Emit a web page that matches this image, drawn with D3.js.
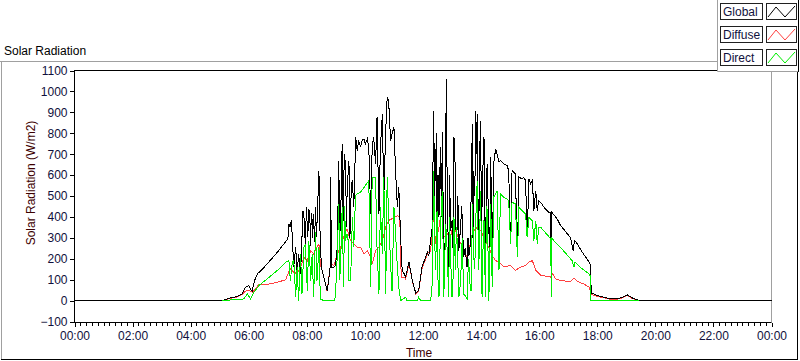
<!DOCTYPE html>
<html><head><meta charset="utf-8">
<script src="https://cdn.jsdelivr.net/npm/d3@7"></script>
<style>
body{margin:0;background:#fff}
svg{display:block}
text{font-family:"Liberation Sans",Arial,sans-serif;font-size:12px}
</style>
</head><body>
<svg width="800" height="361"></svg>
<script>
// ---- data (time in minutes since midnight, values in W/m2) ----
const seriesNames = ["Global", "Diffuse", "Direct"];
const seriesColors = ["#000000", "#ff4040", "#00ee00"];

const globalTime = [0,305,322,336,346,353,360,364,367,372,379,384,398,419,439,441,443,445,448,450,453,457,460,463,467,470,472,475,477,479,482,484,486,488,489,491,492,494,496,498,500,505,507,510,515,522,525,528,529,531,536,539,543,546,548,550,553,555,556,558,560,562,563,565,567,569,570,572,574,577,581,584,587,591,594,598,601,605,608,612,615,618,622,625,629,632,636,639,643,646,649,653,656,660,663,667,670,672,675,677,681,684,691,698,705,711,718,729,732,739,742,744,746,748,749,751,753,756,758,760,763,766,768,770,773,775,777,780,782,784,786,787,789,791,792,794,796,798,800,804,807,811,813,815,818,820,822,823,825,827,829,830,832,834,835,837,839,841,842,844,846,848,849,851,853,855,856,858,860,863,866,870,873,877,880,887,894,897,901,904,911,915,918,925,928,932,935,939,942,946,949,953,956,959,963,970,980,984,985,986,997,1004,1011,1025,1030,1033,1039,1049,1059,1065,1068,1073,1080,1094,1107,1121,1132,1142,1152,1166,1440];
const globalValue = [0,0,13,19,32,64,72,51,45,96,131,140,175,231,290,300,367,351,383,303,160,255,128,223,128,303,430,383,250,446,303,440,414,260,420,383,300,414,280,446,303,618,351,160,112,48,96,160,590,160,160,167,255,669,300,414,749,380,574,700,637,350,494,600,669,300,383,550,574,446,781,717,765,733,765,773,749,773,733,414,733,781,653,876,414,733,892,494,813,972,956,765,797,829,637,446,542,414,239,144,128,112,184,96,35,48,160,231,215,351,908,500,669,800,335,600,398,733,400,805,160,300,1060,542,160,600,335,383,250,781,700,430,280,367,500,239,300,367,450,207,250,160,300,215,271,600,845,300,621,500,908,700,892,400,271,700,860,300,462,650,781,300,112,600,653,400,335,250,685,144,653,725,701,661,669,653,645,621,271,621,606,207,590,582,590,574,303,582,558,574,430,526,430,478,470,446,422,422,20,422,391,360,340,300,239,287,271,231,199,175,32,32,24,16,8,8,16,27,13,0,0];

const diffuseTime = [305,322,336,346,353,360,364,367,372,381,398,419,436,441,446,453,460,467,474,481,488,494,501,505,508,515,522,529,536,543,550,556,563,570,577,584,591,598,605,612,615,622,629,636,643,649,656,667,672,675,681,684,691,698,705,711,718,729,736,739,742,746,749,753,756,760,763,770,777,784,787,794,801,811,818,825,832,839,849,856,863,870,877,887,901,911,921,932,939,946,953,963,984,987,994,1004,1025,1032,1039,1052,1063,1068,1080,1094,1107,1121,1132,1142,1152,1166];
const diffuseValue = [0,11,17,28,45,48,45,40,50,77,77,88,99,128,152,136,128,160,207,191,239,223,255,271,175,112,45,175,167,223,255,303,343,287,271,255,255,223,239,207,175,239,255,287,351,383,391,406,398,112,112,104,176,93,32,45,152,223,239,351,398,271,303,351,398,414,303,319,303,383,335,295,255,207,271,335,351,335,287,255,215,191,184,160,168,144,160,168,184,191,144,122,112,131,104,96,91,107,91,80,64,30,20,13,6,6,13,25,11,0];

const directTime = [305,350,357,364,371,381,398,419,436,443,446,450,453,457,460,463,467,470,474,477,481,484,488,491,494,498,501,505,508,515,536,539,543,546,548,550,553,556,558,560,563,565,567,570,572,574,577,579,581,584,591,601,608,612,615,622,625,629,632,636,639,643,646,649,653,656,660,663,667,670,674,684,687,708,711,715,736,739,742,744,746,749,751,753,756,758,760,763,765,767,770,773,775,777,780,782,784,787,789,791,794,796,798,801,804,808,811,814,818,820,822,825,827,829,832,835,837,839,842,844,846,849,851,853,856,858,860,863,866,870,873,877,880,887,894,897,901,904,911,915,918,925,932,935,939,946,949,953,956,959,963,984,985,986,990,1004,1028,1032,1034,1045,1063,1065,1066,1166];
const directValue = [0,8,32,8,40,72,104,144,183,191,96,183,191,16,160,0,223,32,255,271,48,287,96,223,16,327,96,255,8,0,0,16,223,462,100,191,446,64,450,287,319,300,96,96,200,398,255,400,502,510,518,550,574,64,590,590,255,32,446,223,590,32,590,414,175,48,446,335,160,64,0,16,0,0,16,0,0,80,621,300,144,430,100,16,335,450,526,16,200,367,239,16,400,207,16,100,398,144,350,271,16,50,112,300,32,20,8,200,48,50,462,207,150,383,574,144,300,526,16,250,383,16,450,430,0,200,462,64,494,510,526,144,510,494,486,478,271,470,462,207,446,430,414,303,398,382,287,382,271,351,351,295,16,300,287,255,191,159,183,159,128,124,0,0];

const yTickValues = [-100,0,100,200,300,400,500,600,700,800,900,1000,1100];
const xTickMinutes = [0,120,240,360,480,600,720,840,960,1080,1200,1320,1440];
const xTickLabels = ["00:00","02:00","04:00","06:00","08:00","10:00","12:00","14:00","16:00","18:00","20:00","22:00","00:00"];

// ---- drawing ----
const svg = d3.select("svg");
const x = d3.scaleLinear().domain([0,1440]).range([74.5,771.5]);
const y = d3.scaleLinear().domain([-100,1100]).range([321.5,70.5]);
const tickColor = "#10103c";

// outer panel frame
svg.append("path").attr("d","M0,61.5H717").attr("stroke","#a0a0a0").attr("fill","none");
svg.append("path").attr("d","M1.5,61V359").attr("stroke","#a0a0a0").attr("fill","none");
svg.append("path").attr("d","M1,359.5H798M797.5,60V360").attr("stroke","#000").attr("fill","none");

svg.append("text").attr("x",4).attr("y",55).attr("fill","#000").text("Solar Radiation");

// plot borders
svg.append("path").attr("d","M771.5,70V322.5").attr("stroke","#a0a0a0").attr("fill","none");
svg.append("path").attr("d","M74.5,70V322.5H771.5M74.5,70.5H771.5").attr("stroke","#000").attr("fill","none");

// y axis
const yAxis = svg.append("g").attr("transform","translate(74.5,0)")
  .call(d3.axisLeft(y).tickValues(yTickValues).tickSize(5).tickPadding(2).tickFormat(d3.format("d")));
yAxis.select(".domain").remove();
yAxis.selectAll("line").attr("stroke","#000").attr("shape-rendering","crispEdges");
yAxis.selectAll("text").attr("fill",tickColor).style("font-family","Liberation Sans, Arial, sans-serif").style("font-size","12px");

// x axis minor ticks
const xMinor = svg.append("g").attr("transform","translate(0,322.5)")
  .call(d3.axisBottom(x).tickValues(d3.range(0,1441,12)).tickSize(3).tickFormat(""));
xMinor.select(".domain").remove();
xMinor.selectAll("line").attr("stroke","#000").attr("shape-rendering","crispEdges");
// x axis major
const xAxis = svg.append("g").attr("transform","translate(0,322.5)")
  .call(d3.axisBottom(x).tickValues(xTickMinutes).tickSize(4).tickPadding(5).tickFormat((d,i)=>xTickLabels[i]));
xAxis.select(".domain").remove();
xAxis.selectAll("line").attr("stroke","#000").attr("shape-rendering","crispEdges");
xAxis.selectAll("text").attr("fill",tickColor).style("font-family","Liberation Sans, Arial, sans-serif").style("font-size","12px");

// axis titles
svg.append("text").attr("x",419).attr("y",357).attr("text-anchor","middle").attr("fill","#3c0000").text("Time");
svg.append("text").attr("transform","translate(35,183) rotate(-90)").attr("text-anchor","middle").attr("fill","#3c0000").text("Solar Radiation (W/m2)");

// series
const line = d3.line().x(d=>x(d[0])).y(d=>y(d[1]));
const zip = (t,v)=>t.map((tt,i)=>[tt,v[i]]).sort((a,b)=>a[0]-b[0]);
const series = [
  {name:"Diffuse", data:zip(diffuseTime,diffuseValue), color:seriesColors[1]},
  {name:"Global", data:zip(globalTime,globalValue), color:seriesColors[0]},
  {name:"Direct", data:zip(directTime,directValue), color:seriesColors[2]}
];
const plot = svg.append("g");
plot.selectAll("path").data(series).join("path")
  .attr("d",d=>line(d.data)).attr("fill","none").attr("stroke",d=>d.color)
  .attr("stroke-width",1).attr("shape-rendering","crispEdges");

// legend
const lg = svg.append("g");
lg.append("rect").attr("x",717).attr("y",0).attr("width",83).attr("height",71).attr("fill","#fff");
lg.append("path").attr("d","M717.5,0V71.5H798").attr("stroke","#a0a0a0").attr("fill","none");
lg.append("path").attr("d","M798.5,0V72").attr("stroke","#000").attr("fill","none");
const rowTop = [3,26,49];
seriesNames.forEach((name,i)=>{
  const t = rowTop[i];
  lg.append("rect").attr("x",720.5).attr("y",t+0.5).attr("width",42).attr("height",16)
    .attr("fill","#fff").attr("stroke","#202020");
  lg.append("rect").attr("x",766.5).attr("y",t+0.5).attr("width",30).attr("height",16)
    .attr("fill","#fff").attr("stroke","#202020");
  lg.append("text").attr("x",723).attr("y",t+13).attr("fill",tickColor).text(name);
  lg.append("path").attr("d",`M768,${t+14}L776,${t+4}L785,${t+14}L795,${t+3}`)
    .attr("stroke",seriesColors[i]).attr("fill","none");
});
</script>
</body></html>
